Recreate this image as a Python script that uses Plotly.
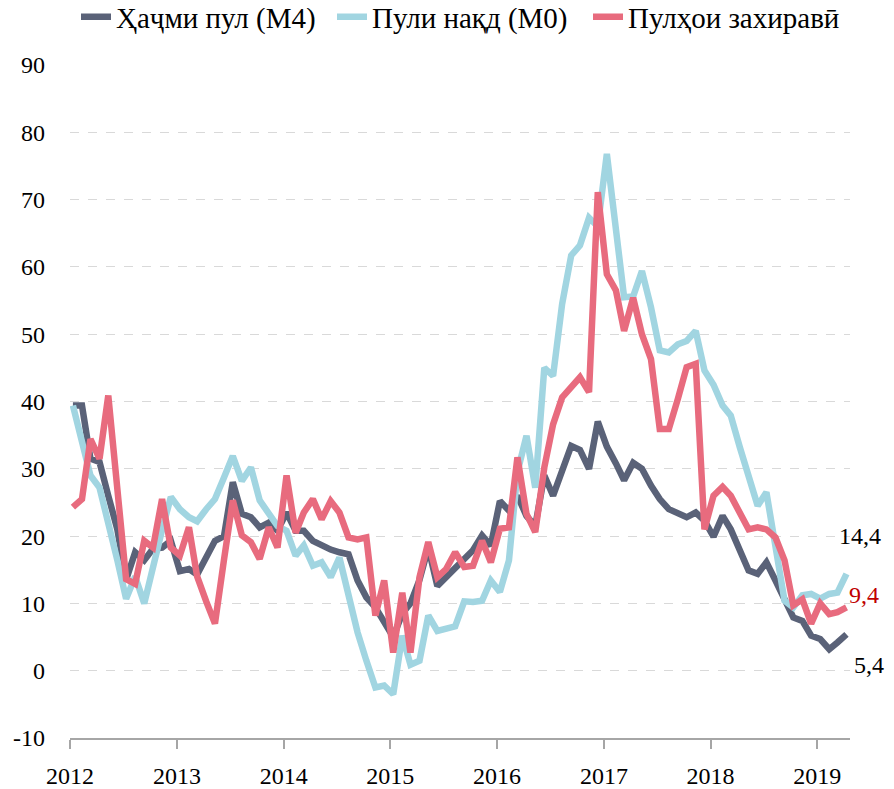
import pandas as pd
import plotly.graph_objects as go

months = pd.date_range("2012-01-01", periods=88, freq="MS") + pd.Timedelta(days=10)
tick_years = ["2012", "2013", "2014", "2015", "2016", "2017", "2018", "2019"]
y_ticks = [-10, 0, 10, 20, 30, 40, 50, 60, 70, 80, 90]
y_ticktext = ["-10", "0", "10", "20", "30", "40", "50", "60", "70", "80", "90"]

m4 = [39.4, 39.4, 31.5, 31.0, 26.0, 21.0, 13.5, 17.6, 16.4, 18.1, 18.3, 19.3,
      14.8, 15.1, 14.3, 16.8, 19.3, 20.0, 28.0, 23.3, 22.8, 21.3, 22.0, 20.8,
      23.5, 20.8, 20.8, 19.3, 18.6, 18.0, 17.6, 17.3, 13.4, 10.9, 9.4, 7.0,
      5.0, 8.5, 10.0, 13.5, 18.3, 12.6, 13.9, 15.4, 16.6, 17.9, 20.1, 18.6,
      25.2, 23.8, 26.0, 23.0, 21.5, 29.0, 26.0, 29.5, 33.4, 32.8, 30.0, 37.0,
      33.3, 30.8, 28.3, 30.9, 30.0, 27.5, 25.5, 24.0, 23.5, 22.8, 23.5, 22.3,
      19.9, 23.0, 21.0, 17.8, 14.9, 14.4, 16.1, 13.4, 10.7, 7.9, 7.4, 5.2,
      4.7, 3.2, 4.2, 5.4]

m0 = [39.4, 34.0, 29.0, 27.2, 22.3, 16.4, 10.7, 14.0, 10.0, 15.8, 20.9, 25.8,
      24.0, 22.8, 22.2, 24.0, 25.5, 28.7, 31.9, 28.2, 30.2, 25.3, 23.5, 21.5,
      20.8, 17.1, 18.6, 15.6, 16.1, 13.9, 16.8, 11.4, 5.7, 1.5, -2.5, -2.2,
      -3.5, 5.2, 0.9, 1.5, 8.2, 5.9, 6.2, 6.6, 10.3, 10.2, 10.4, 13.4,
      11.7, 16.4, 29.5, 34.9, 27.2, 45.0, 43.8, 54.5, 61.7, 63.2, 67.3, 66.0,
      76.8, 66.4, 55.5, 55.6, 59.4, 54.0, 47.6, 47.3, 48.5, 49.0, 50.5, 44.6,
      42.5, 39.4, 37.9, 33.2, 28.5, 24.5, 26.5, 18.3, 10.4, 9.4, 11.2, 11.4,
      10.7, 11.4, 11.6, 14.4]

reserve = [24.3, 25.5, 34.4, 31.5, 40.9, 27.0, 13.6, 12.9, 19.3, 18.3, 25.5, 18.3,
           17.1, 21.3, 14.0, 10.3, 7.0, 16.5, 25.3, 20.1, 19.1, 16.6, 21.3, 18.3,
           29.0, 20.5, 23.5, 25.5, 22.5, 25.2, 23.5, 19.8, 19.5, 19.8, 8.2, 13.4,
           2.7, 11.6, 2.7, 13.9, 19.1, 13.9, 15.1, 17.6, 15.4, 15.6, 19.3, 16.1,
           21.1, 21.3, 31.7, 23.3, 20.6, 30.2, 36.6, 40.6, 42.1, 43.6, 41.4, 71.1,
           58.9, 56.5, 50.5, 55.4, 50.0, 46.3, 35.9, 35.9, 40.4, 45.1, 45.6, 21.0,
           26.0, 27.3, 26.0, 23.5, 21.0, 21.3, 21.0, 19.8, 16.4, 9.7, 10.6, 7.0,
           10.0, 8.4, 8.7, 9.4]

names = ["Ҳаҷми пул (М4)", "Пули нақд (М0)", "Пулҳои захиравӣ"]
colors = ["#5A6278", "#A1D5E1", "#E86B7E"]
label_colors = ["#000000", "#000000", "#C00000"]
label_shift = [-31, 38, 12]
label_xshift = [6, -9, 1]

FONT = "Liberation Serif"

fig = go.Figure()
for name, vals, col in zip(names, [m4, m0, reserve], colors):
    fig.add_trace(go.Scatter(x=months, y=vals, mode="lines", name=name,
                             line=dict(color=col, width=6.5)))

for vals, lc, sh, xs in zip([m4, m0, reserve], label_colors, label_shift, label_xshift):
    fig.add_annotation(x=months[-1], y=vals[-1], text=f"{vals[-1]:.1f}".replace(".", ","),
                       showarrow=False, xanchor="left", yanchor="middle",
                       xshift=xs, yshift=sh, font=dict(family=FONT, size=24, color=lc))

fig.update_layout(
    width=886, height=781,
    margin=dict(l=62, r=44, t=57, b=51, autoexpand=False),
    paper_bgcolor="white", plot_bgcolor="white",
    font=dict(family=FONT, size=24, color="black"),
    showlegend=True,
    legend=dict(orientation="h", x=0.5, xanchor="center",
                yref="container", y=0.9885, yanchor="middle",
                font=dict(family=FONT, size=29), entrywidth=211,
                tracegroupgap=0, bgcolor="rgba(0,0,0,0)"),
)
fig.update_xaxes(type="date", range=["2012-01-01", "2019-04-23"],
                 tickvals=[pd.Timestamp(y + "-01-01") for y in tick_years],
                 ticktext=tick_years, automargin=False,
                 ticks="outside", ticklen=9, tickcolor="#A6A6A6", tickwidth=1.5,
                 showline=True, linecolor="#A6A6A6", linewidth=1.5,
                 showgrid=False, zeroline=False, ticklabelstandoff=6)
fig.update_yaxes(range=[-10, 90], tickvals=y_ticks, ticktext=y_ticktext,
                 automargin=False,
                 showgrid=True, gridcolor="#D9D9D9", griddash="dash", gridwidth=1,
                 zeroline=False, showline=False, ticks="", ticklabelstandoff=24)

fig.write_html("out.html")
